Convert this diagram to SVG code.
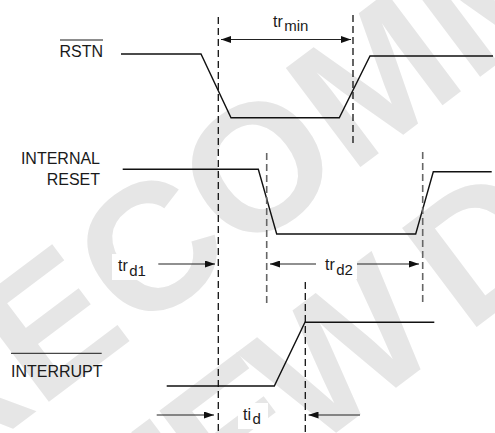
<svg xmlns="http://www.w3.org/2000/svg" width="495" height="433" viewBox="0 0 495 433">
<defs>
<style>
.wm{font-family:"Liberation Sans",Arial,sans-serif;font-weight:bold;font-size:180px;fill:#e6e6e6}
.lbl{font-family:"Liberation Sans",Arial,sans-serif;font-size:16px;fill:#1a1a1a}
.sub{font-size:15px}
.wave{fill:none;stroke:#111;stroke-width:1.4}
.dash{fill:none;stroke:#111;stroke-width:1.3;stroke-dasharray:7,4}
.dashg{fill:none;stroke:#666;stroke-width:1.6;stroke-dasharray:7,4}
.arr{fill:none;stroke:#222;stroke-width:1.1}
.ovl{stroke:#1a1a1a;stroke-width:1}
</style>
<marker id="ah" markerUnits="userSpaceOnUse" markerWidth="10" markerHeight="7" refX="10" refY="3.5" orient="auto-start-reverse">
<path d="M0,0 L10,3.5 L0,7 z" fill="#111"/>
</marker>
</defs>
<rect width="495" height="433" fill="#fff"/>
<g id="watermark">
<text class="wm" transform="translate(-408,746) rotate(-37)">NOT RECOMMENDED</text>
<text class="wm" transform="translate(-175,818) rotate(-37)" letter-spacing="-12">FOR NEW DESIGNS</text>
</g>
<g id="label-bg" fill="#fff">
<rect x="268" y="12" width="48" height="22"/>
<rect x="112" y="254" width="36" height="26"/>
<rect x="316" y="253" width="41" height="26"/>
<rect x="238" y="403" width="30" height="26"/>
</g>
<g id="rstn">
<text class="lbl" x="103" y="57" text-anchor="end">RSTN</text>
<line class="ovl" x1="60" y1="40" x2="103" y2="40"/>
<polyline class="wave" points="121,54 201,54 231,117.7 339.3,117.7 370,56 493,56"/>
</g>
<g id="internal-reset">
<text class="lbl" x="100" y="164" text-anchor="end">INTERNAL</text>
<text class="lbl" x="100" y="185" text-anchor="end">RESET</text>
<polyline class="wave" points="122.7,169.3 258.3,169.3 276.7,234 415.7,234 433.3,171.7 491.7,171.7"/>
</g>
<g id="interrupt">
<text class="lbl" x="11" y="377">INTERRUPT</text>
<line class="ovl" x1="11" y1="353.3" x2="101.7" y2="353.3"/>
<polyline class="wave" points="166.7,386 274.3,386 305,322.3 434.3,322.3"/>
</g>
<g id="connectors">
<line class="dash" x1="218.3" y1="17" x2="218.3" y2="433"/>
<line class="dash" x1="353" y1="15" x2="353" y2="146" stroke="#333"/>
<line class="dashg" x1="266.7" y1="153" x2="266.7" y2="306"/>
<line class="dashg" x1="422.7" y1="152" x2="422.7" y2="305"/>
<line class="dash" x1="305.3" y1="282" x2="305.3" y2="433"/>
<line class="arr" x1="221" y1="39.5" x2="351" y2="39.5" marker-start="url(#ah)" marker-end="url(#ah)"/>
<line class="arr" x1="158.3" y1="264" x2="215" y2="264" marker-end="url(#ah)"/>
<line class="arr" x1="270" y1="264" x2="316" y2="264" marker-start="url(#ah)"/>
<line class="arr" x1="357" y1="264" x2="419" y2="264" marker-end="url(#ah)"/>
<line class="arr" x1="156.7" y1="415" x2="214" y2="415" marker-end="url(#ah)"/>
<line class="arr" x1="360" y1="415" x2="308.5" y2="415" marker-end="url(#ah)"/>
</g>
<g id="labels">
<text class="lbl" x="273" y="27">tr<tspan class="sub" dx="1.5" dy="4">min</tspan></text>
<text class="lbl" x="118" y="271">tr<tspan class="sub" dx="1.5" dy="5">d1</tspan></text>
<text class="lbl" x="325" y="270">tr<tspan class="sub" dx="1.5" dy="5">d2</tspan></text>
<text class="lbl" x="243" y="420">ti<tspan class="sub" dx="1.5" dy="4">d</tspan></text>
</g>
</svg>
